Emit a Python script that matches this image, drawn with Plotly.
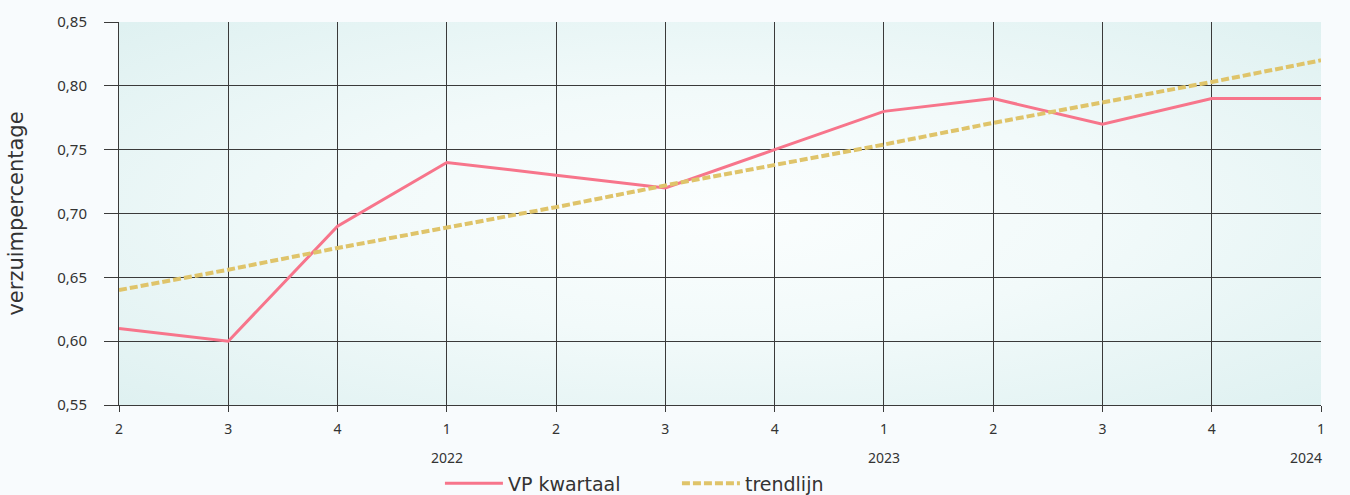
import plotly.graph_objects as go

quarters = ["2", "3", "4", "1", "2", "3", "4", "1", "2", "3", "4", "1"]
years = {3: "2022", 7: "2023", 11: "2024"}
vp_kwartaal = [0.61, 0.60, 0.69, 0.74, 0.73, 0.72, 0.75, 0.78, 0.79, 0.77, 0.79, 0.79]
trendlijn = [0.640, 0.656, 0.673, 0.689, 0.705, 0.722, 0.738, 0.754, 0.771, 0.787, 0.803, 0.820]
y_ticks = [0.55, 0.60, 0.65, 0.70, 0.75, 0.80, 0.85]

xs = list(range(len(quarters)))
FONT = "DejaVu Sans"
TXT = "#333333"

fig = go.Figure()
fig.add_trace(go.Scatter(x=xs, y=vp_kwartaal, mode="lines", name="VP kwartaal",
                         line=dict(color="#f7758b", width=3)))
fig.add_trace(go.Scatter(x=xs, y=trendlijn, mode="lines", name="trendlijn",
                         line=dict(color="#dfc46a", width=4, dash="8px,3px")))

svg = ("data:image/svg+xml;utf8,"
       "<svg xmlns='http://www.w3.org/2000/svg' width='1200' height='400' preserveAspectRatio='none'>"
       "<defs><radialGradient id='g' cx='50%' cy='50%' r='70%'>"
       "<stop offset='0%' stop-color='%23fbfefe'/>"
       "<stop offset='45%' stop-color='%23f2fafa'/>"
       "<stop offset='100%' stop-color='%23dff1f1'/>"
       "</radialGradient></defs>"
       "<rect width='1200' height='400' fill='url(%23g)'/></svg>")

fig.update_layout(
    width=1350, height=495,
    margin=dict(l=119, r=29, t=22, b=90, autoexpand=False),
    paper_bgcolor="#f8fbfd",
    plot_bgcolor="rgba(0,0,0,0)",
    font=dict(family=FONT, color=TXT, size=14),
    images=[dict(source=svg, xref="paper", yref="paper", x=0, y=1, sizex=1, sizey=1,
                 xanchor="left", yanchor="top", sizing="stretch", layer="below")],
    xaxis=dict(range=[0, len(quarters) - 1], tickmode="array", tickvals=xs, ticktext=quarters,
               showgrid=True, gridcolor="#3a3a3a", gridwidth=1, zeroline=False,
               showline=True, linecolor="#3a3a3a", linewidth=1,
               ticks="outside", ticklen=6, tickcolor="#3a3a3a", ticklabelstandoff=5,
               tickfont=dict(size=14, color=TXT, family="Noto Sans")),
    yaxis=dict(range=[0.55, 0.85], tickmode="array", tickvals=y_ticks,
               ticktext=[f"{v:.2f}".replace(".", ",") for v in y_ticks],
               showgrid=True, gridcolor="#3a3a3a", gridwidth=1, zeroline=False,
               showline=True, linecolor="#3a3a3a", linewidth=1,
               ticks="outside", ticklen=14, tickcolor="#3a3a3a", ticklabelstandoff=14,
               tickfont=dict(size=15, color=TXT, family="Noto Sans"),
               title=dict(text="verzuimpercentage", font=dict(size=21, color=TXT), standoff=27)),
    legend=dict(orientation="h", x=0.267, xanchor="left", y=-0.205, yanchor="middle",
                font=dict(size=19, color=TXT), bgcolor="rgba(0,0,0,0)",
                itemwidth=58, entrywidth=164, entrywidthmode="pixels"),
    showlegend=True,
)

for xi, yr in years.items():
    last = xi == len(quarters) - 1
    fig.add_annotation(x=xi, y=-0.136, xref="x", yref="paper", text=yr, showarrow=False,
                       xanchor="right" if last else "center", xshift=3 if last else 0,
                       yanchor="middle", font=dict(size=14, color=TXT, family="Noto Sans"))

fig.write_html("out.html", post_script="document.body.style.margin='0';",
               config={"displayModeBar": False})
